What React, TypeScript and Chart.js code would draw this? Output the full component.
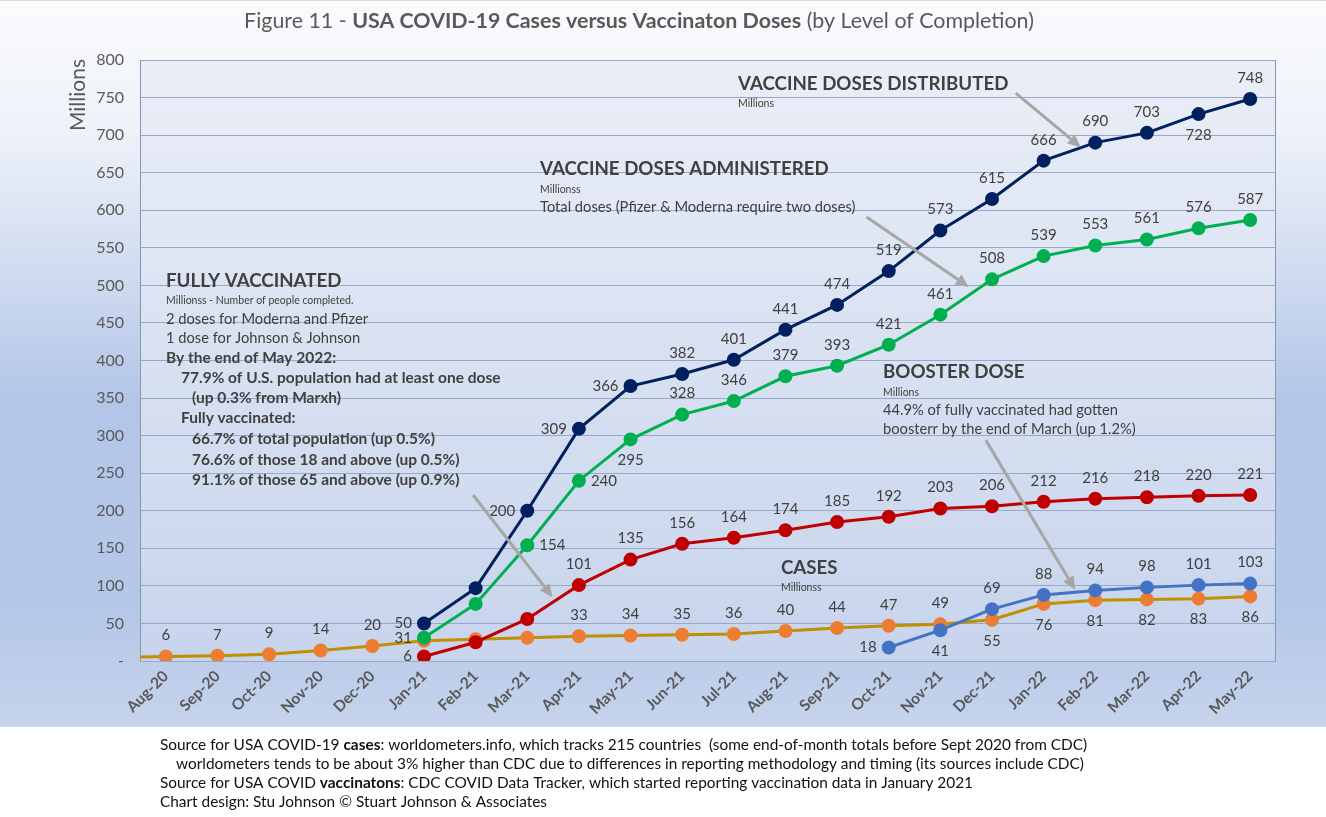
import React, { useEffect, useRef } from 'react';
import { Chart, registerables } from 'chart.js';

Chart.register(...registerables);

const FONT = 'Lato';

// Month categories (index 0 = Jul-20, clipped outside the plot area on the left)
const months = ['Jul-20', 'Aug-20', 'Sep-20', 'Oct-20', 'Nov-20', 'Dec-20', 'Jan-21', 'Feb-21', 'Mar-21', 'Apr-21', 'May-21', 'Jun-21', 'Jul-21', 'Aug-21', 'Sep-21', 'Oct-21', 'Nov-21', 'Dec-21', 'Jan-22', 'Feb-22', 'Mar-22', 'Apr-22', 'May-22'];

// Series values (millions)
const casesValues = [4.6, 6, 7, 9, 14, 20, 27, 29, 31, 33, 34, 35, 36, 40, 44, 47, 49, 55, 76, 81, 82, 83, 86];
const distributedValues = [50, 97, 200, 309, 366, 382, 401, 441, 474, 519, 573, 615, 666, 690, 703, 728, 748]; // from Jan-21
const administeredValues = [31, 76, 154, 240, 295, 328, 346, 379, 393, 421, 461, 508, 539, 553, 561, 576, 587]; // from Jan-21
const fullyValues = [6, 25, 56, 101, 135, 156, 164, 174, 185, 192, 203, 206, 212, 216, 218, 220, 221]; // from Jan-21
const boosterValues = [18, 41, 69, 88, 94, 98, 101, 103]; // from Oct-21

const vaccineStart = months.indexOf('Jan-21');
const boosterStart = months.indexOf('Oct-21');

// Label placement: A above, B below, L left, R right, N none
const distributedLabelPos = ['L', 'N', 'L', 'L', 'L', 'A', 'A', 'A', 'A', 'A', 'A', 'A', 'A', 'A', 'A', 'B', 'A'];
const administeredLabelPos = ['L', 'N', 'R', 'R', 'B', 'A', 'A', 'A', 'A', 'A', 'A', 'A', 'A', 'A', 'A', 'A', 'A'];
const fullyLabelPos = ['L', 'N', 'N', 'A', 'A', 'A', 'A', 'A', 'A', 'A', 'A', 'A', 'A', 'A', 'A', 'A', 'A'];
const boosterLabelPos = ['L', 'B', 'A', 'A', 'A', 'A', 'A', 'A'];
const casesLabelPos = ['N', 'A', 'A', 'A', 'A', 'A', 'N', 'N', 'N', 'A', 'A', 'A', 'A', 'A', 'A', 'A', 'A', 'B', 'B', 'B', 'B', 'B', 'B'];

const yTicks = { min: 0, max: 800, step: 50 };

function toPoints(start: number, values: number[]) {
  return values.map((v, i) => ({ x: start + i, y: v }));
}

type Seg = { t: string; b?: boolean; s?: number };

function drawRich(ctx: CanvasRenderingContext2D, x: number, y: number, segs: Seg[], color: string, align: 'left' | 'center' = 'left') {
  ctx.save();
  ctx.fillStyle = color;
  ctx.textBaseline = 'middle';
  ctx.textAlign = 'left';
  const fontOf = (s: Seg) => `${s.b ? 'bold ' : ''}${s.s}px ${FONT}`;
  let total = 0;
  for (const s of segs) {
    ctx.font = fontOf(s);
    total += ctx.measureText(s.t).width;
  }
  let cx = align === 'center' ? x - total / 2 : x;
  for (const s of segs) {
    ctx.font = fontOf(s);
    ctx.fillText(s.t, cx, y);
    cx += ctx.measureText(s.t).width;
  }
  ctx.restore();
}

const H = 18.7; // header size
const SM = 10.5; // small note size
const BD = 14.7; // body size
const BB = 15.5; // bold body size

// Annotation texts
const annotations: { x: number; y: number; segs: Seg[] }[] = [
  { x: 738, y: 84, segs: [{ t: 'VACCINE DOSES DISTRIBUTED', b: true, s: H }] },
  { x: 738, y: 104, segs: [{ t: 'Millions', s: SM }] },
  { x: 540, y: 169, segs: [{ t: 'VACCINE DOSES ADMINISTERED', b: true, s: H }] },
  { x: 540, y: 190, segs: [{ t: 'Millionss', s: SM }] },
  { x: 540, y: 207, segs: [{ t: 'Total doses (Pfizer & Moderna require two doses)', s: BD }] },
  { x: 166, y: 281, segs: [{ t: 'FULLY VACCINATED', b: true, s: H }] },
  { x: 166, y: 301, segs: [{ t: 'Millionss - Number of people completed.', s: SM }] },
  { x: 166, y: 319, segs: [{ t: '2 doses for Moderna and Pfizer', s: BD }] },
  { x: 166, y: 338, segs: [{ t: '1 dose for Johnson & Johnson', s: BD }] },
  { x: 166, y: 358, segs: [{ t: 'By the end of May 2022:', b: true, s: BB }] },
  { x: 181, y: 378, segs: [{ t: '77.9% of U.S. population had at least one dose', b: true, s: BB }] },
  { x: 192, y: 398, segs: [{ t: '(up 0.3% from Marxh)', b: true, s: BB }] },
  { x: 181, y: 418, segs: [{ t: 'Fully vaccinated:', b: true, s: BB }] },
  { x: 192, y: 439, segs: [{ t: '66.7% of total population (up 0.5%)', b: true, s: BB }] },
  { x: 192, y: 460, segs: [{ t: '76.6% of those 18 and above (up 0.5%)', b: true, s: BB }] },
  { x: 192, y: 480, segs: [{ t: '91.1% of those 65 and above (up 0.9%)', b: true, s: BB }] },
  { x: 883, y: 372, segs: [{ t: 'BOOSTER DOSE', b: true, s: H }] },
  { x: 883, y: 393, segs: [{ t: 'Millions', s: SM }] },
  { x: 883, y: 410, segs: [{ t: '44.9% of fully vaccinated had gotten', s: BD }] },
  { x: 883, y: 429, segs: [{ t: 'boosterr by the end of March (up 1.2%)', s: BD }] },
  { x: 781, y: 568, segs: [{ t: 'CASES', b: true, s: H }] },
  { x: 781, y: 588, segs: [{ t: 'Millionss', s: SM }] },
];

// Arrows in data coordinates: [xFrom, yFrom, xTo, yTo]
const arrows = [
  [17.46, 756, 18.72, 684],
  [14.57, 591, 16.55, 498],
  [6.95, 221, 8.49, 85],
  [16.88, 294, 18.61, 95],
];

const FT = 15.4;
const footerLines: { x: number; y: number; segs: Seg[] }[] = [
  { x: 160, y: 745, segs: [{ t: 'Source for USA COVID-19 ', s: FT }, { t: 'cases', b: true, s: FT }, { t: ': worldometers.info, which tracks 215 countries  (some end-of-month totals before Sept 2020 from CDC)', s: FT }] },
  { x: 176, y: 764, segs: [{ t: 'worldometers tends to be about 3% higher than CDC due to differences in reporting methodology and timing (its sources include CDC)', s: FT }] },
  { x: 160, y: 783, segs: [{ t: 'Source for USA COVID ', s: FT }, { t: 'vaccinatons', b: true, s: FT }, { t: ': CDC COVID Data Tracker, which started reporting vaccination data in January 2021', s: FT }] },
  { x: 160, y: 802, segs: [{ t: 'Chart design: Stu Johnson \u00A9 Stuart Johnson & Associates', s: FT }] },
];

const backgroundPlugin = {
  id: 'bg',
  beforeDraw(chart: any) {
    const { ctx, width, chartArea } = chart;
    ctx.save();
    ctx.fillStyle = '#ffffff';
    ctx.fillRect(0, 0, width, chart.height);
    const bandBottom = 727;
    const g = ctx.createLinearGradient(0, 0, 0, bandBottom);
    g.addColorStop(0, '#fafbfd');
    g.addColorStop(0.18, '#eef2f9');
    g.addColorStop(0.55, '#b3c6e7');
    g.addColorStop(0.85, '#b6c8e8');
    g.addColorStop(1, '#c6d4ec');
    ctx.fillStyle = g;
    ctx.fillRect(0, 0, width, bandBottom);
    ctx.fillStyle = '#d9d9d9';
    ctx.fillRect(0, 0, width, 1);
    const pg = ctx.createLinearGradient(0, chartArea.top, 0, chartArea.bottom);
    pg.addColorStop(0, '#eaeef7');
    pg.addColorStop(1, '#c7d4ec');
    ctx.fillStyle = pg;
    ctx.fillRect(chartArea.left, chartArea.top, chartArea.right - chartArea.left, chartArea.bottom - chartArea.top);
    ctx.restore();
  },
  beforeDatasetsDraw(chart: any) {
    const { ctx, chartArea } = chart;
    ctx.save();
    ctx.strokeStyle = '#8497b0';
    ctx.lineWidth = 1;
    ctx.beginPath();
    ctx.moveTo(chartArea.left + 0.5, chartArea.bottom);
    ctx.lineTo(chartArea.left + 0.5, chartArea.top);
    ctx.moveTo(chartArea.right - 0.5, chartArea.top);
    ctx.lineTo(chartArea.right - 0.5, chartArea.bottom);
    ctx.stroke();
    ctx.restore();
  },
};

const labelPositions = [distributedLabelPos, administeredLabelPos, fullyLabelPos, boosterLabelPos, casesLabelPos];

const dataLabelPlugin = {
  id: 'dataLabels',
  afterDatasetsDraw(chart: any) {
    const { ctx } = chart;
    ctx.save();
    ctx.font = `15px ${FONT}`;
    ctx.fillStyle = '#404040';
    chart.data.datasets.forEach((ds: any, di: number) => {
      const meta = chart.getDatasetMeta(di);
      const pos = labelPositions[di];
      meta.data.forEach((el: any, i: number) => {
        const p = pos[i];
        if (!p || p === 'N') return;
        const v = ds.data[i].y;
        const txt = String(Math.round(v));
        let x = el.x;
        let y = el.y;
        ctx.textBaseline = 'middle';
        if (p === 'A') { ctx.textAlign = 'center'; y -= 21; }
        else if (p === 'B') { ctx.textAlign = 'center'; y += 21; }
        else if (p === 'L') { ctx.textAlign = 'right'; x -= 12; }
        else if (p === 'R') { ctx.textAlign = 'left'; x += 12; }
        ctx.fillText(txt, x, y);
      });
    });
    ctx.restore();
  },
};

const overlayPlugin = {
  id: 'overlay',
  afterDraw(chart: any) {
    const { ctx, scales } = chart;
    // Title
    drawRich(ctx, 639, 21, [
      { t: 'Figure 11 - ', s: 21.4 },
      { t: 'USA COVID-19 Cases versus Vaccinaton Doses', b: true, s: 21.4 },
      { t: ' (by Level of Completion)', s: 21.4 },
    ], '#595959', 'center');
    // Y axis title
    ctx.save();
    ctx.translate(78, 95);
    ctx.rotate(-Math.PI / 2);
    ctx.font = `21px ${FONT}`;
    ctx.fillStyle = '#595959';
    ctx.textAlign = 'center';
    ctx.textBaseline = 'middle';
    ctx.fillText('Millions', 0, 0);
    ctx.restore();
    // Annotations
    for (const a of annotations) drawRich(ctx, a.x, a.y, a.segs, '#404040');
    // Arrows
    ctx.save();
    ctx.strokeStyle = '#a6a6a6';
    ctx.fillStyle = '#a6a6a6';
    ctx.lineWidth = 3;
    for (const [x0, y0, x1, y1] of arrows) {
      const px0 = scales.x.getPixelForValue(x0);
      const py0 = scales.y.getPixelForValue(y0);
      const px1 = scales.x.getPixelForValue(x1);
      const py1 = scales.y.getPixelForValue(y1);
      const ang = Math.atan2(py1 - py0, px1 - px0);
      const head = 13;
      const bx = px1 - head * Math.cos(ang);
      const by = py1 - head * Math.sin(ang);
      ctx.beginPath();
      ctx.moveTo(px0, py0);
      ctx.lineTo(bx, by);
      ctx.stroke();
      ctx.beginPath();
      ctx.moveTo(px1, py1);
      ctx.lineTo(bx + 6 * Math.sin(ang), by - 6 * Math.cos(ang));
      ctx.lineTo(bx - 6 * Math.sin(ang), by + 6 * Math.cos(ang));
      ctx.closePath();
      ctx.fill();
    }
    ctx.restore();
    // Footer
    for (const f of footerLines) drawRich(ctx, f.x, f.y, f.segs, '#111111');
  },
};

function lineDataset(label: string, data: { x: number; y: number }[], line: string, marker: string) {
  return {
    label,
    data,
    borderColor: line,
    backgroundColor: marker,
    pointBackgroundColor: marker,
    pointBorderColor: marker,
    borderWidth: 3,
    pointRadius: 5.5,
    pointHoverRadius: 5.5,
    tension: 0,
    clip: 0,
  };
}

export default function App() {
  const ref = useRef<HTMLCanvasElement>(null);
  useEffect(() => {
    document.body.style.margin = '0';
    const canvas = ref.current!;
    const chart = new Chart(canvas, {
      type: 'line',
      data: {
        datasets: [
          lineDataset('Vaccine Doses Distributed', toPoints(vaccineStart, distributedValues), '#002060', '#002060'),
          lineDataset('Vaccine Doses Administered', toPoints(vaccineStart, administeredValues), '#00b050', '#00b050'),
          lineDataset('Fully Vaccinated', toPoints(vaccineStart, fullyValues), '#c00000', '#c00000'),
          lineDataset('Booster Dose', toPoints(boosterStart, boosterValues), '#4472c4', '#4472c4'),
          lineDataset('Cases', toPoints(0, casesValues), '#bf9000', '#ed7d31'),
        ] as any,
      },
      options: {
        responsive: false,
        animation: false,
        devicePixelRatio: 1,
        layout: { padding: { left: 0, top: 60, right: 50, bottom: 90 } },
        plugins: { legend: { display: false }, tooltip: { enabled: false }, title: { display: false } },
        events: [],
        scales: {
          x: {
            type: 'linear',
            min: 0.5,
            max: months.length - 0.5,
            grid: { display: false, drawTicks: false },
            border: { display: false },
            afterBuildTicks: (s: any) => {
              s.ticks = months.map((_, i) => ({ value: i })).filter((t) => t.value >= 1);
            },
            ticks: {
              autoSkip: false,
              minRotation: 45,
              maxRotation: 45,
              padding: 6,
              color: '#595959',
              font: { family: FONT, size: 15.5, weight: 'bold' },
              callback: (v: any) => months[Math.round(v)] ?? '',
            },
            afterFit: (s: any) => { s.height = 66; },
          },
          y: {
            min: yTicks.min,
            max: yTicks.max,
            grid: { color: '#98a9c8', drawTicks: false, lineWidth: 1 },
            border: { display: false },
            ticks: {
              stepSize: yTicks.step,
              padding: 16,
              color: '#595959',
              font: { family: FONT, size: 16 },
              callback: (v: any) => (v === 0 ? '-' : String(v)),
            },
            afterFit: (s: any) => { s.width = 140; },
          },
        },
      } as any,
      plugins: [backgroundPlugin, dataLabelPlugin, overlayPlugin],
    });
    return () => chart.destroy();
  }, []);
  return (
    <div style={{ width: 1326, height: 817 }}>
      <canvas ref={ref} width={1326} height={817} />
    </div>
  );
}
